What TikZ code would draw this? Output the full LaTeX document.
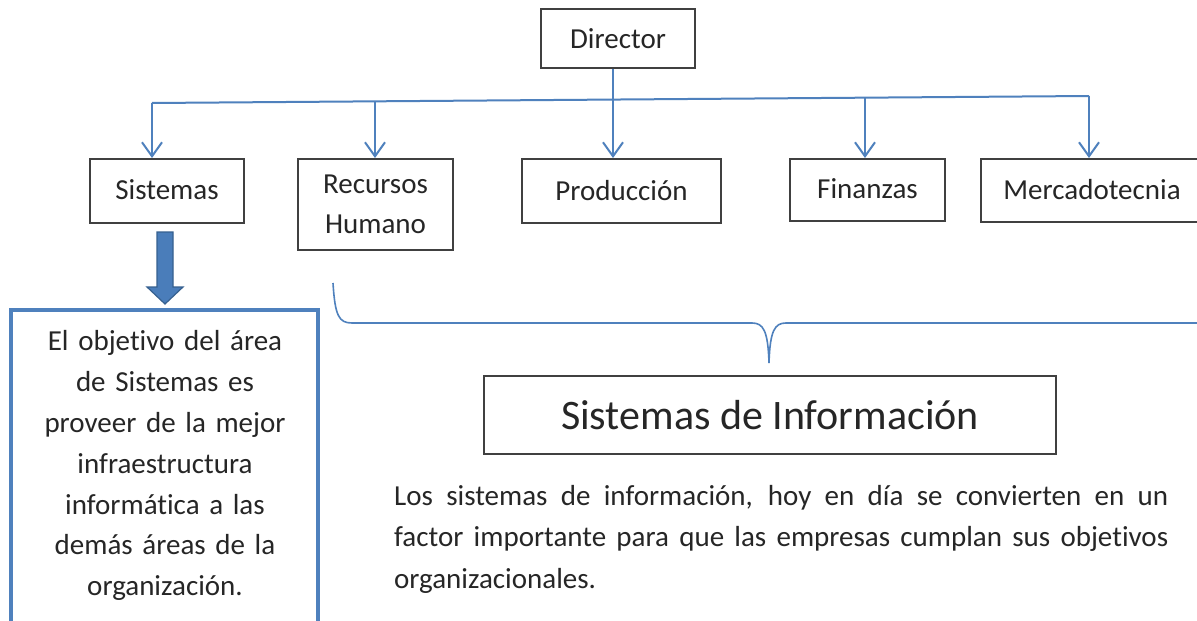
\documentclass[tikz,border=0pt]{standalone}
\usepackage{fontspec}
\setmainfont{Carlito}[Ligatures=NoCommon]
\usetikzlibrary{arrows.meta}
\definecolor{boxline}{HTML}{404040}
\definecolor{conn}{HTML}{4F81BD}
\definecolor{arrfill}{HTML}{4A7DBA}
\definecolor{arrdraw}{HTML}{36608F}
\definecolor{txt}{HTML}{262626}
\tikzset{
  orgbox/.style={draw=boxline, line width=2pt, rectangle, inner sep=0pt, align=center,
    text=txt, font=\fontsize{29}{40}\selectfont},
  conarrow/.style={draw=conn, line width=2pt, -{Straight Barb[length=14pt,width=20pt]}},
  busline/.style={draw=conn, line width=2pt},
  bracestyle/.style={draw=conn, line width=1.6pt},
}
\begin{document}
\begin{tikzpicture}[x=1pt,y=-1pt]
\clip (0,0) rectangle (1197,621);
\fill[white] (0,0) rectangle (1197,621);
% top-level boxes
\node[orgbox, minimum width=154pt, minimum height=59pt] (dir) at (618,38.5) {Director};
\node[orgbox, minimum width=154pt, minimum height=64pt] (sis) at (167,191) {\raisebox{2pt}{Sistemas}};
\node[orgbox, minimum width=155pt, minimum height=91pt] (rh) at (375.5,204.5) {\raisebox{-3pt}{Recursos}\\\raisebox{-3pt}{Humano}};
\node[orgbox, minimum width=199pt, minimum height=64pt] (prod) at (621.5,191) {\raisebox{2pt}{Producción}};
\node[orgbox, minimum width=155pt, minimum height=62pt] (fin) at (867.5,190) {\raisebox{2pt}{Finanzas}};
\node[orgbox, minimum width=222pt, minimum height=63pt] (merc) at (1092,190.5) {\raisebox{2pt}{Mercadotecnia}};
% bus
\coordinate (b1) at (152,103);
\coordinate (b2) at (375,101.3);
\coordinate (b0) at (613,99.7);
\coordinate (b3) at (865,97.7);
\coordinate (b4) at (1089,96);
\draw[busline] (b1) -- (b4);
\draw[conarrow] (b1) -- (b1 |- sis.north);
\draw[conarrow] (b2) -- (b2 |- rh.north);
\draw[conarrow] (dir.south -| b0) -- (b0 |- prod.north);
\draw[conarrow] (b3) -- (b3 |- fin.north);
\draw[conarrow] (b4) -- (b4 |- merc.north);
% thick arrow
\draw[fill=arrfill, draw=arrdraw, line width=1.2pt, line join=miter]
  (157,232) -- (173,232) -- (173,287) -- (183,287) -- (165,304) -- (147,287) -- (157,287) -- cycle;
% objective box
\node[draw=conn, line width=3.2pt, rectangle, inner sep=0pt, minimum width=307pt, minimum height=340pt] (obj) at (164.5,480) {};
\node[anchor=north, inner sep=0pt, text width=300pt, align=center, text=txt,
  font=\fontsize{29}{40.8}\selectfont] (objtxt) at (165,330.5)
  {El objetivo del área\\de Sistemas es\\proveer de la mejor\\infraestructura\\informática a las\\demás áreas de la\\organización.};
% brace
\coordinate (brL) at (333,283);
\coordinate (brT) at (769,363);
\coordinate (brR) at (1215,323);
\draw[bracestyle] (brL) .. controls (335,316) and (339,323) .. (352,323) -- (752,323)
  .. controls (763,323) and (768,330) .. (brT)
  .. controls (770,330) and (775,323) .. (786,323) -- (brR);
% Sistemas de Informacion
\node[orgbox, minimum width=572pt, minimum height=78pt, font=\fontsize{42}{50}\selectfont] (sdi) at (770,415) {Sistemas de Información};
% paragraph
\node[anchor=north west, inner sep=0pt, text width=774pt, align=justify, text=txt,
  font=\fontsize{29}{41.5}\selectfont] (para) at (394,485)
  {Los sistemas de información, hoy en día se convierten en un\linebreak factor importante para que las empresas cumplan sus objetivos\linebreak organizacionales.};
\end{tikzpicture}
\end{document}
